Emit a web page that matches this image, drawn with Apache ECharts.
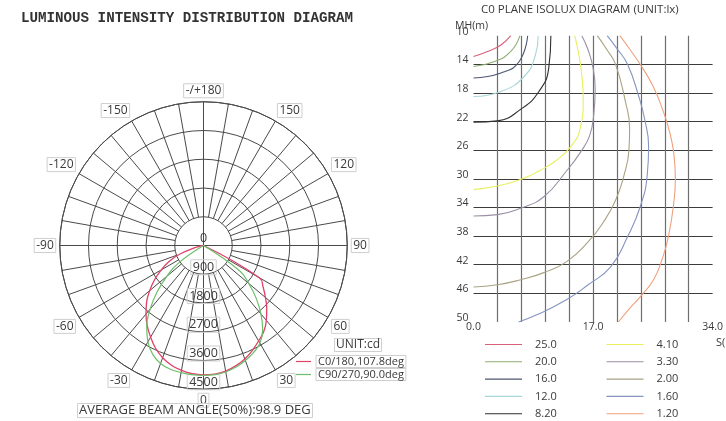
<!DOCTYPE html>
<html><head><meta charset="utf-8">
<script src="https://cdn.jsdelivr.net/npm/echarts@6/dist/echarts.min.js"></script>
<style>html,body{margin:0;padding:0;background:#fff}#c{width:726px;height:421px}</style>
</head><body><div id="c"></div>
<script>
// ---------- Luminous intensity (cd) vs angle from nadir ----------
const polarAngles = [0,5,10,15,20,25,30,35,40,45,50,55,60,65,70,75,80,85,90];
const c0Right  = [4050,4040,3990,3900,3780,3620,3450,3290,3060,2800,2530,2280,2030,0,0,0,0,0,0];
const c180Left = [4050,4030,3970,3880,3740,3550,3310,3070,2800,2520,2200,1870,1520,1200,800,300,80,20,0];
const c90Right = [4070,4060,4020,3940,3830,3700,3530,3230,2800,2330,1850,1380,0,0,0,0,0,0,0];
const c270Left = [4070,4060,4040,4010,3930,3760,3480,3100,2600,2050,1500,960,0,0,0,0,0,0,0];
const polarNames = ['C0/180,107.8deg','C90/270,90.0deg'];

// ---------- Isolux curves: [S(m), MH(m)] ----------
const isoLevels = ['25.0','20.0','16.0','12.0','8.20','4.10','3.30','2.00','1.60','1.20'];
const iso25  = [[0,12.9],[2.0,12.2],[3.9,11.3],[5.3,10.0]];
const iso20  = [[0,14.3],[3.0,13.6],[5.3,12.2],[6.6,10.0]];
const iso16  = [[0,15.9],[3.9,15.2],[6.5,13.6],[7.7,10.0]];
const iso12  = [[0,18.5],[3.9,17.8],[7.2,15.7],[8.8,12.7],[9.2,10.0]];
const iso8_2 = [[0,22.1],[3.4,21.9],[6.7,20.3],[9.3,17.8],[10.7,14.5],[11.0,10.0]];
const iso4_1 = [[0,31.5],[3.9,30.9],[7.2,29.9],[9.3,28.9],[11.8,27.4],[13.9,25.4],[15.2,22.8],[15.6,19.0],[15.4,15.5],[15.0,12.8],[14.4,10.0]];
const iso3_3 = [[0,35.2],[3.4,35.0],[6.7,34.1],[10.0,32.5],[13.3,28.8],[15.2,26.3],[16.5,24.0],[17.1,21.0],[17.3,17.5],[17.0,14.5],[16.3,12.0],[15.4,10.0]];
const iso2_0 = [[0,45.1],[3.4,44.8],[6.7,44.1],[10.0,43.1],[13.2,41.6],[16.3,38.8],[18.5,36.0],[20.2,33.0],[21.4,29.5],[22.1,26.0],[22.2,23.0],[21.6,19.2],[20.2,14.0],[19.0,12.0],[17.6,10.0]];
const iso1_6 = [[6.4,50.0],[9.0,49.0],[13.2,46.9],[16.3,44.8],[19.5,42.3],[21.9,38.1],[23.7,33.9],[24.7,29.5],[24.9,25.5],[24.3,21.5],[23.5,18.5],[21.9,14.0],[20.4,11.8],[19.0,10.0]];
const iso1_2 = [[20.6,50.0],[22.3,48.0],[23.7,46.5],[25.6,44.1],[26.9,41.0],[27.7,38.1],[28.4,34.0],[28.7,30.0],[28.5,26.6],[27.9,23.5],[27.0,20.6],[25.5,17.0],[23.7,14.0],[22.3,12.0],[20.8,10.0]];
const isoCurves = [iso25, iso20, iso16, iso12, iso8_2, iso4_1, iso3_3, iso2_0, iso1_6, iso1_2];
const xLabelValues = [0, 17, 34];

// ---------- styles ----------
const isoColors = ['#d9607a','#8fae72','#4c5472','#a9d6da','#2e2e2e','#e9ef5c','#9a8fa6','#a9a283','#8595c0','#f0a07c'];
const polarColors = ['#e0406a','#6cbf6a'];
const FONT = '"Open Sans", "Noto Sans", sans-serif';
const TXT = '#3a3a3a';

function loop(left, right) {
  const pts = [];
  for (let i = polarAngles.length - 1; i >= 1; i--) pts.push([left[i], 360 - polarAngles[i]]);
  pts.push([(left[0] + right[0]) / 2, 0]);
  for (let i = 1; i < polarAngles.length; i++) pts.push([right[i], polarAngles[i]]);
  return pts;
}

const CX = 203.5, CY = 245.5, R = 143.75, R1 = R / 5;
const gridLine = '#4a4a4a';
const box = {borderColor: '#cfcfcf', borderWidth: 1, padding: [1, 2]};
const isoLegend = {orient: 'vertical', top: 338, padding: 0, icon: 'rect', itemWidth: 37, itemHeight: 1.1, itemGap: 4.3,
  selectedMode: false, textStyle: {fontFamily: FONT, fontSize: 11, color: TXT, lineHeight: 13, padding: [0, 0, 0, 8]}};

const chart = echarts.init(document.getElementById('c'), null, {renderer: 'canvas'});
chart.setOption({
  backgroundColor: '#fff',
  animation: false,
  textStyle: {fontFamily: FONT},
  title: [
    {text: 'LUMINOUS INTENSITY DISTRIBUTION DIAGRAM', left: 21, top: 11, padding: 0,
     textStyle: {fontFamily: '"Liberation Mono", "DejaVu Sans Mono", monospace', fontWeight: 'bold', fontSize: 14.2, color: '#333'}},
    {text: 'C0 PLANE ISOLUX DIAGRAM (UNIT:lx)', left: 481, top: 4, padding: 0,
     textStyle: {fontFamily: FONT, fontWeight: 'normal', fontSize: 11.5, color: TXT}},
    {text: 'AVERAGE BEAM ANGLE(50%):98.9 DEG', left: 77, top: 403, padding: [0, 2], borderColor: '#cfcfcf', borderWidth: 1,
     textStyle: {fontFamily: FONT, fontWeight: 'normal', fontSize: 13, color: TXT, lineHeight: 15}},
    {text: 'UNIT:cd', left: 334, top: 338, padding: [0, 2], borderColor: '#cfcfcf', borderWidth: 1,
     textStyle: {fontFamily: FONT, fontWeight: 'normal', fontSize: 12, color: TXT, lineHeight: 14}}
  ],
  graphic: [
    {type: 'text', x: 716, y: 337, style: {text: 'S(m)', fontFamily: FONT, fontSize: 11, fill: TXT}},
    {type: 'text', x: 455, y: 21, style: {text: 'MH(m)', fontFamily: FONT, fontSize: 10.5, fill: TXT}}
  ],
  legend: [
    {data: polarNames, orient: 'vertical', left: 296, top: 355, padding: 0, icon: 'rect', itemWidth: 15, itemHeight: 1.2, itemGap: 0,
     selectedMode: false,
     textStyle: {fontFamily: FONT, fontSize: 11, color: TXT, lineHeight: 12, borderColor: '#cfcfcf', borderWidth: 1, padding: [0, 2]}},
    Object.assign({data: isoLevels.slice(0, 5), left: 485}, isoLegend),
    Object.assign({data: isoLevels.slice(5), left: 606.5}, isoLegend)
  ],
  polar: [
    {center: [CX, CY], radius: [0, R]},
    {center: [CX, CY], radius: [R1, R]},
    {center: [CX, CY], radius: [0, R]}
  ],
  angleAxis: [
    {polarIndex: 0, type: 'value', min: 0, max: 360, interval: 90, startAngle: 270, clockwise: false,
     axisLine: {show: true, lineStyle: {color: gridLine, width: 1}}, axisTick: {show: false}, axisLabel: {show: false},
     splitLine: {show: true, lineStyle: {color: gridLine, width: 1}}},
    {polarIndex: 1, type: 'value', min: 0, max: 360, interval: 10, startAngle: 270, clockwise: false,
     axisLine: {show: false}, axisTick: {show: false}, axisLabel: {show: false},
     splitLine: {show: true, lineStyle: {color: gridLine, width: 1}}},
    {polarIndex: 2, type: 'value', min: 0, max: 360, interval: 30, startAngle: 270, clockwise: false,
     axisLine: {show: false}, axisTick: {show: false}, splitLine: {show: false},
     axisLabel: {show: true, margin: 4,
       formatter: v => { if (v >= 360) return ''; const t = v === 180 ? '-/+180' : (v > 180 ? String(v - 360) : String(v)); return '{b|' + t + '}'; },
       rich: {b: Object.assign({fontFamily: FONT, fontSize: 12, color: TXT, lineHeight: 14}, box)}}}
  ],
  radiusAxis: [
    {polarIndex: 0, type: 'value', min: 0, max: 4500, interval: 900,
     axisLine: {show: false}, axisTick: {show: false},
     splitLine: {show: true, lineStyle: {color: gridLine, width: 1}},
     axisLabel: {show: true, margin: 0, align: 'center', verticalAlign: 'bottom',
       formatter: v => v === 0 ? '{c|0}' : '{b|' + v + '}',
       rich: {b: Object.assign({fontFamily: FONT, fontSize: 12.5, color: TXT, lineHeight: 14}, box),
              c: {fontFamily: FONT, fontSize: 12.5, color: TXT, lineHeight: 14, padding: [1, 2]}}}},
    {polarIndex: 1, type: 'value', min: 0, max: 4500, show: false},
    {polarIndex: 2, type: 'value', min: 0, max: 4500, show: false}
  ],
  grid: {left: 473.5, top: 35.7, width: 243.2, height: 286.3, containLabel: false},
  xAxis: {type: 'value', min: 0, max: 34, interval: 3.4,
    axisLine: {show: false}, axisTick: {show: false},
    splitLine: {show: true, showMinLine: false, showMaxLine: false, lineStyle: {color: '#6e6e6e', width: 1.2}},
    axisLabel: {margin: 0, fontFamily: FONT, fontSize: 10.5, color: TXT,
      formatter: v => xLabelValues.some(t => Math.abs(t - v) < 1e-6) ? v.toFixed(1) : ''}},
  yAxis: {type: 'value', inverse: true, min: 10, max: 50, interval: 4,
    axisLine: {show: false}, axisTick: {show: false},
    splitLine: {show: true, showMinLine: false, showMaxLine: false, lineStyle: {color: '#3c3c3c', width: 1}},
    axisLabel: {margin: 5, fontFamily: FONT, fontSize: 10.5, color: TXT, verticalAlign: 'bottom', lineHeight: 8}},
  series: [
    {name: polarNames[0], type: 'line', coordinateSystem: 'polar', polarIndex: 0, data: loop(c180Left, c0Right),
     symbol: 'none', smooth: 0.45, color: polarColors[0], lineStyle: {color: polarColors[0], width: 1.3}, z: 5},
    {name: polarNames[1], type: 'line', coordinateSystem: 'polar', polarIndex: 0, data: loop(c270Left, c90Right),
     symbol: 'none', smooth: 0.45, color: polarColors[1], lineStyle: {color: polarColors[1], width: 1.2}, z: 5}
  ].concat(isoLevels.map((lv, i) => ({
    name: lv, type: 'line', xAxisIndex: 0, yAxisIndex: 0, data: isoCurves[i], symbol: 'none', smooth: 0.5,
    color: isoColors[i], lineStyle: {color: isoColors[i], width: 1.1}, z: 5
  })))
});
</script></body></html>
